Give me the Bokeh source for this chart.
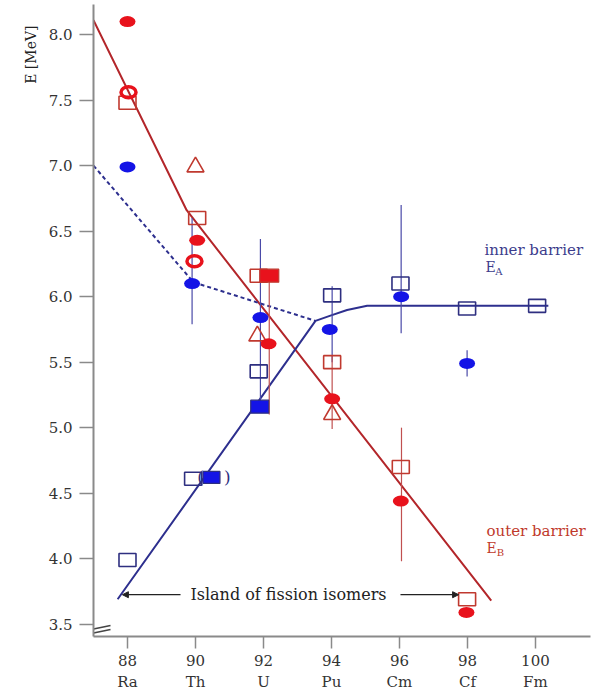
from bokeh.plotting import figure
from bokeh.models import Range1d, FixedTicker, Label, Arrow, NormalHead, Title
from bokeh.embed import file_html
from bokeh.resources import INLINE

# ---------------- data ----------------
z_ticks = [88, 90, 92, 94, 96, 98, 100]
elements = ["Ra", "Th", "U", "Pu", "Cm", "Cf", "Fm"]
e_ticks = [3.5, 4.0, 4.5, 5.0, 5.5, 6.0, 6.5, 7.0, 7.5, 8.0]

# outer barrier (red)
red_dot_z = [88.0, 90.05, 92.15, 94.02, 96.04, 97.97]
red_dot_e = [8.10, 6.43, 5.64, 5.22, 4.44, 3.59]
red_ring_z = [88.03, 89.97]
red_ring_e = [7.56, 6.27]
red_open_sq_z = [88.0, 90.05, 91.86, 94.02, 96.04, 97.99]
red_open_sq_e = [7.48, 6.60, 6.16, 5.50, 4.70, 3.69]
red_fill_sq_z = [92.17]
red_fill_sq_e = [6.16]
red_tri_z = [90.0, 91.82, 94.02]
red_tri_e = [6.99, 5.70, 5.10]
red_line_z = [87.0, 89.74, 98.7]
red_line_e = [8.11, 6.66, 3.68]
red_err_z = [92.17, 94.02, 96.06]
red_err_lo = [5.10, 4.99, 3.98]
red_err_hi = [6.16, 5.55, 5.00]

# inner barrier (blue)
blue_dot_z = [88.0, 89.9, 91.91, 93.95, 96.05, 97.99]
blue_dot_e = [6.99, 6.10, 5.84, 5.75, 6.00, 5.49]
blue_open_sq_z = [88.0, 89.93, 91.86, 94.02, 96.03, 97.99, 100.05]
blue_open_sq_e = [3.99, 4.61, 5.43, 6.01, 6.10, 5.91, 5.93]
blue_fill_sq_z = [91.89]
blue_fill_sq_e = [5.16]
blue_paren_sq_z = [90.47]
blue_paren_sq_e = [4.62]
blue_line_z = [87.71, 93.53, 93.97, 94.46, 95.05, 100.38]
blue_line_e = [3.69, 5.815, 5.855, 5.898, 5.93, 5.93]
blue_dash_z = [87.0, 89.94, 93.53]
blue_dash_e = [7.0, 6.11, 5.815]
blue_err_z = [89.9, 91.91, 94.02, 96.05, 97.99]
blue_err_lo = [5.79, 5.15, 5.50, 5.72, 5.39]
blue_err_hi = [6.60, 6.44, 6.08, 6.70, 5.59]

# ---------------- styling ----------------
RED = "#e8121c"
RED_LINE = "#b3262a"
RED_OPEN = "#c0392f"
BLUE = "#1414e6"
BLUE_LINE = "#2d2f8e"
BLUE_OPEN = "#2e2f80"
SERIF = "DejaVu Serif"

p = figure(width=592, height=694, output_backend="svg", toolbar_location=None,
           x_range=Range1d(87.0, 101.62), y_range=Range1d(3.406, 8.23),
           min_border_left=93, min_border_right=2, min_border_top=4,
           min_border_bottom=55)
p.outline_line_color = None
p.xgrid.visible = False
p.ygrid.visible = False
p.background_fill_color = "white"

# axes
for ax in (p.xaxis[0], p.yaxis[0]):
    ax.axis_line_color = "#8a8a8a"
    ax.axis_line_width = 2
    ax.major_tick_line_color = "#8a8a8a"
    ax.major_tick_line_width = 1.5
    ax.major_tick_in = 0
    ax.minor_tick_line_color = None
    ax.major_label_text_font = SERIF
    ax.major_label_text_font_size = "15px"
    ax.major_label_text_color = "#333333"

p.xaxis.ticker = FixedTicker(ticks=z_ticks)
p.xaxis.major_label_overrides = {z: f"{z}\n{el}" for z, el in zip(z_ticks, elements)}
p.xaxis.major_tick_out = 12
p.xaxis.major_label_standoff = 3

p.yaxis.ticker = FixedTicker(ticks=e_ticks)
p.yaxis.major_label_overrides = {e: f"{e:.1f}" for e in e_ticks}
p.yaxis.major_tick_out = 14
p.yaxis.major_label_standoff = 7

# y axis title near the top
p.add_layout(Title(text="E [MeV]", align="right", offset=21, standoff=13,
                   text_font=SERIF, text_font_size="14px", text_font_style="normal",
                   text_color="#222222"), "left")

# axis break mark
p.segment(x0=[87.0, 87.0], y0=[3.463, 3.433], x1=[87.5, 87.5], y1=[3.49, 3.46],
          line_color="#444444", line_width=1.6)

# lines
p.line(red_line_z, red_line_e, line_color=RED_LINE, line_width=2)
p.line(blue_line_z, blue_line_e, line_color=BLUE_LINE, line_width=2)
p.line(blue_dash_z, blue_dash_e, line_color=BLUE_LINE, line_width=2, line_dash="4 3")

# error bars
p.segment(x0=blue_err_z, y0=blue_err_lo, x1=blue_err_z, y1=blue_err_hi,
          line_color="#4a4aa8", line_width=1.2)
p.segment(x0=red_err_z, y0=red_err_lo, x1=red_err_z, y1=red_err_hi,
          line_color="#c05050", line_width=1.2)

# markers: red
p.rect(red_open_sq_z, red_open_sq_e, width=17, height=13, width_units="screen",
       height_units="screen", fill_color=None, line_color=RED_OPEN, line_width=1.6)
p.rect(red_fill_sq_z, red_fill_sq_e, width=19, height=13, width_units="screen",
       height_units="screen", fill_color=RED, line_color=RED_OPEN, line_width=1.2)
p.scatter(red_tri_z, red_tri_e, marker="triangle", size=17, fill_color=None,
          line_color=RED_OPEN, line_width=1.6)
p.ellipse(red_ring_z, red_ring_e, width=15, height=11, width_units="screen",
          height_units="screen", fill_color=None, line_color=RED, line_width=3.5)
p.ellipse(red_dot_z, red_dot_e, width=16, height=11, width_units="screen",
          height_units="screen", fill_color=RED, line_color=None)

# markers: blue
p.rect(blue_open_sq_z, blue_open_sq_e, width=17, height=13, width_units="screen",
       height_units="screen", fill_color=None, line_color=BLUE_OPEN, line_width=1.6)
p.rect(blue_fill_sq_z, blue_fill_sq_e, width=18, height=13, width_units="screen",
       height_units="screen", fill_color=BLUE, line_color=BLUE_OPEN, line_width=1.2)
p.rect(blue_paren_sq_z, blue_paren_sq_e, width=17, height=12, width_units="screen",
       height_units="screen", fill_color=BLUE, line_color=BLUE_OPEN, line_width=1.2)
p.ellipse(blue_dot_z, blue_dot_e, width=16, height=11, width_units="screen",
          height_units="screen", fill_color=BLUE, line_color=None)

# parentheses around the filled square
p.add_layout(Label(x=90.15, y=blue_paren_sq_e[0], text="(",
                   text_font=SERIF, text_font_size="17px", text_color=BLUE_OPEN,
                   text_align="center", text_baseline="middle"))
p.add_layout(Label(x=90.94, y=blue_paren_sq_e[0], text=")",
                   text_font=SERIF, text_font_size="17px", text_color=BLUE_OPEN,
                   text_align="center", text_baseline="middle"))

# annotations
def lab(x, y, text, color, size="14px", align="left", angle=0.0):
    p.add_layout(Label(x=x, y=y, text=text, text_font=SERIF, text_font_size=size,
                       text_color=color, text_align=align, text_baseline="middle",
                       angle=angle))

lab(98.5, 6.356, "inner barrier", "#3c3c8c", "15px")
lab(98.53, 6.225, "E", "#3c3c8c", "14px")
lab(98.82, 6.19, "A", "#3c3c8c", "10px")
lab(98.56, 4.212, "outer barrier", "#c0392b", "15px")
lab(98.56, 4.083, "E", "#c0392b", "14px")
lab(98.86, 4.045, "B", "#c0392b", "10px")
lab(89.85, 3.725, "Island of fission isomers", "#222222", "16px")
lab(101.32, 3.23, "Z", "#333333", "15px", align="center")

p.add_layout(Arrow(x_start=89.56, y_start=3.725, x_end=87.85, y_end=3.725,
                   line_color="#222222", line_width=1.2,
                   end=NormalHead(size=6, fill_color="#222222", line_color="#222222")))
p.add_layout(Arrow(x_start=96.03, y_start=3.725, x_end=97.74, y_end=3.725,
                   line_color="#222222", line_width=1.2,
                   end=NormalHead(size=6, fill_color="#222222", line_color="#222222")))

open("out.html", "w").write(file_html(p, INLINE))
